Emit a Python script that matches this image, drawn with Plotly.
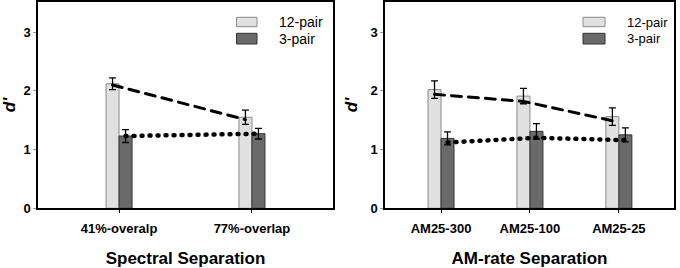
import plotly.graph_objects as go

# ---------------- data ----------------
spec_cats = ["41%-overalp", "77%-overlap"]
spec_12 = [2.12, 1.55]
spec_12_err = [0.10, 0.12]
spec_3 = [1.23, 1.27]
spec_3_err = [0.11, 0.09]
spec_12_line = [2.10, 1.51]
spec_3_line = [1.23, 1.27]

am_cats = ["AM25-300", "AM25-100", "AM25-25"]
am_12 = [2.02, 1.91, 1.56]
am_12_err = [0.15, 0.13, 0.15]
am_3 = [1.19, 1.31, 1.25]
am_3_err = [0.11, 0.13, 0.12]
am_12_line = [1.94, 1.82, 1.49]
am_3_line = [1.12, 1.20, 1.16]

series_names = ["12-pair", "3-pair"]
panel_titles = ["Spectral Separation", "AM-rate Separation"]

# ---------------- style ----------------
W, H = 680, 268
C12, C12_EDGE = "#e0e0e0", "#8a8a8a"
C3, C3_EDGE = "#6a6a6a", "#333333"
BOLD = "Liberation Sans, Arial, sans-serif"

fig = go.Figure()

panels = [
    dict(cats=spec_cats, v12=spec_12, e12=spec_12_err, v3=spec_3, e3=spec_3_err,
         l12=spec_12_line, l3=spec_3_line, xa="x", ya="y", dom=(38, 333),
         rng=(-0.61, 1.61), title=panel_titles[0]),
    dict(cats=am_cats, v12=am_12, e12=am_12_err, v3=am_3, e3=am_3_err,
         l12=am_12_line, l3=am_3_line, xa="x2", ya="y2", dom=(385, 674),
         rng=(-0.63, 2.62), title=panel_titles[1]),
]

y_bottom_px, y_top_px = 208.3, 1.5
ydom = [(H - y_bottom_px) / H, (H - y_top_px) / H]
YMAX = 3.52

for i, p in enumerate(panels):
    n = len(p["cats"])
    xs = list(range(n))
    px_per_unit = (p["dom"][1] - p["dom"][0]) / (p["rng"][1] - p["rng"][0])
    bw = 13.0 / px_per_unit
    fig.add_trace(go.Bar(
        x=xs, y=p["v12"], width=bw, offset=-bw, name=series_names[0],
        marker=dict(color=C12, line=dict(color=C12_EDGE, width=1)),
        error_y=dict(type="data", array=p["e12"], color="black", thickness=1.3, width=3.5),
        xaxis=p["xa"], yaxis=p["ya"], showlegend=False))
    fig.add_trace(go.Bar(
        x=xs, y=p["v3"], width=bw, offset=0, name=series_names[1],
        marker=dict(color=C3, line=dict(color=C3_EDGE, width=1)),
        error_y=dict(type="data", array=p["e3"], color="black", thickness=1.3, width=3.5),
        xaxis=p["xa"], yaxis=p["ya"], showlegend=False))
    fig.add_trace(go.Scatter(
        x=[x - bw / 2 for x in xs], y=p["l12"], mode="lines",
        line=dict(color="black", width=3, dash="10px,7px"),
        xaxis=p["xa"], yaxis=p["ya"], showlegend=False, hoverinfo="skip"))
    fig.add_trace(go.Scatter(
        x=[x + bw / 2 for x in xs], y=p["l3"], mode="lines",
        line=dict(color="black", width=4.5, dash="1px,7px"),
        xaxis=p["xa"], yaxis=p["ya"], showlegend=False, hoverinfo="skip"))

    sfx = "" if i == 0 else "2"
    fig.update_layout(**{
        "xaxis" + sfx: dict(
            domain=[p["dom"][0] / W, p["dom"][1] / W], range=list(p["rng"]),
            tickvals=xs, ticktext=p["cats"], ticks="outside", ticklen=3,
            tickcolor="black", showline=True, mirror=True, linecolor="black",
            linewidth=1.5, showgrid=False, zeroline=False, anchor="y" + sfx,
            ticklabelstandoff=4,
            tickfont=dict(family=BOLD, size=13, color="black", weight="bold"),
            title=dict(text=p["title"], standoff=17,
                       font=dict(family=BOLD, size=17, color="black", weight="bold")),
            automargin=False, fixedrange=True),
        "yaxis" + sfx: dict(
            domain=ydom, range=[0, YMAX], tickvals=[0, 1, 2, 3], ticks="outside",
            ticklen=3, tickcolor="#999999", showline=True, mirror=True,
            linecolor="black", linewidth=1.5, showgrid=False, zeroline=False,
            anchor="x" + sfx,
            tickfont=dict(family=BOLD, size=13, color="black", weight="bold"),
            title=dict(text="<i>d'</i>", standoff=8,
                       font=dict(family=BOLD, size=17, color="black", weight="bold")),
            automargin=False, fixedrange=True),
    })

# ---------------- hand-drawn legends ----------------
legend_specs = [
    dict(rx=(236.5, 257), tx=276.5, fs=14),
    dict(rx=(583, 605), tx=624.5, fs=13),
]
rows = [((17.3, 26.7), C12, C12_EDGE), ((33.3, 44), C3, C3_EDGE)]
shapes = []
annotations = []
for spec in legend_specs:
    for (y0, y1), fill, edge in rows:
        shapes.append(dict(type="rect", xref="paper", yref="paper",
                           x0=spec["rx"][0] / W, x1=spec["rx"][1] / W,
                           y0=(H - y1) / H, y1=(H - y0) / H,
                           fillcolor=fill, line=dict(color=edge, width=1)))
    for k, ((y0, y1), _, _) in enumerate(rows):
        annotations.append(dict(xref="paper", yref="paper", x=spec["tx"] / W,
                                y=(H - (y0 + y1) / 2) / H, xanchor="left",
                                yanchor="middle", showarrow=False,
                                text=series_names[k],
                                font=dict(family=BOLD, size=spec["fs"], color="black")))

fig.update_layout(
    width=W, height=H, margin=dict(l=0, r=0, t=0, b=0),
    plot_bgcolor="white", paper_bgcolor="white", barmode="overlay",
    shapes=shapes, annotations=annotations, showlegend=False,
)

post = (
    "document.body.style.margin='0';document.body.style.overflow='hidden';"
    "document.querySelectorAll('.scatterlayer .js-line').forEach(function(p){"
    "p.style.strokeLinecap='round';});"
)

fig.write_html("out.html", post_script=post, config={"displayModeBar": False})
